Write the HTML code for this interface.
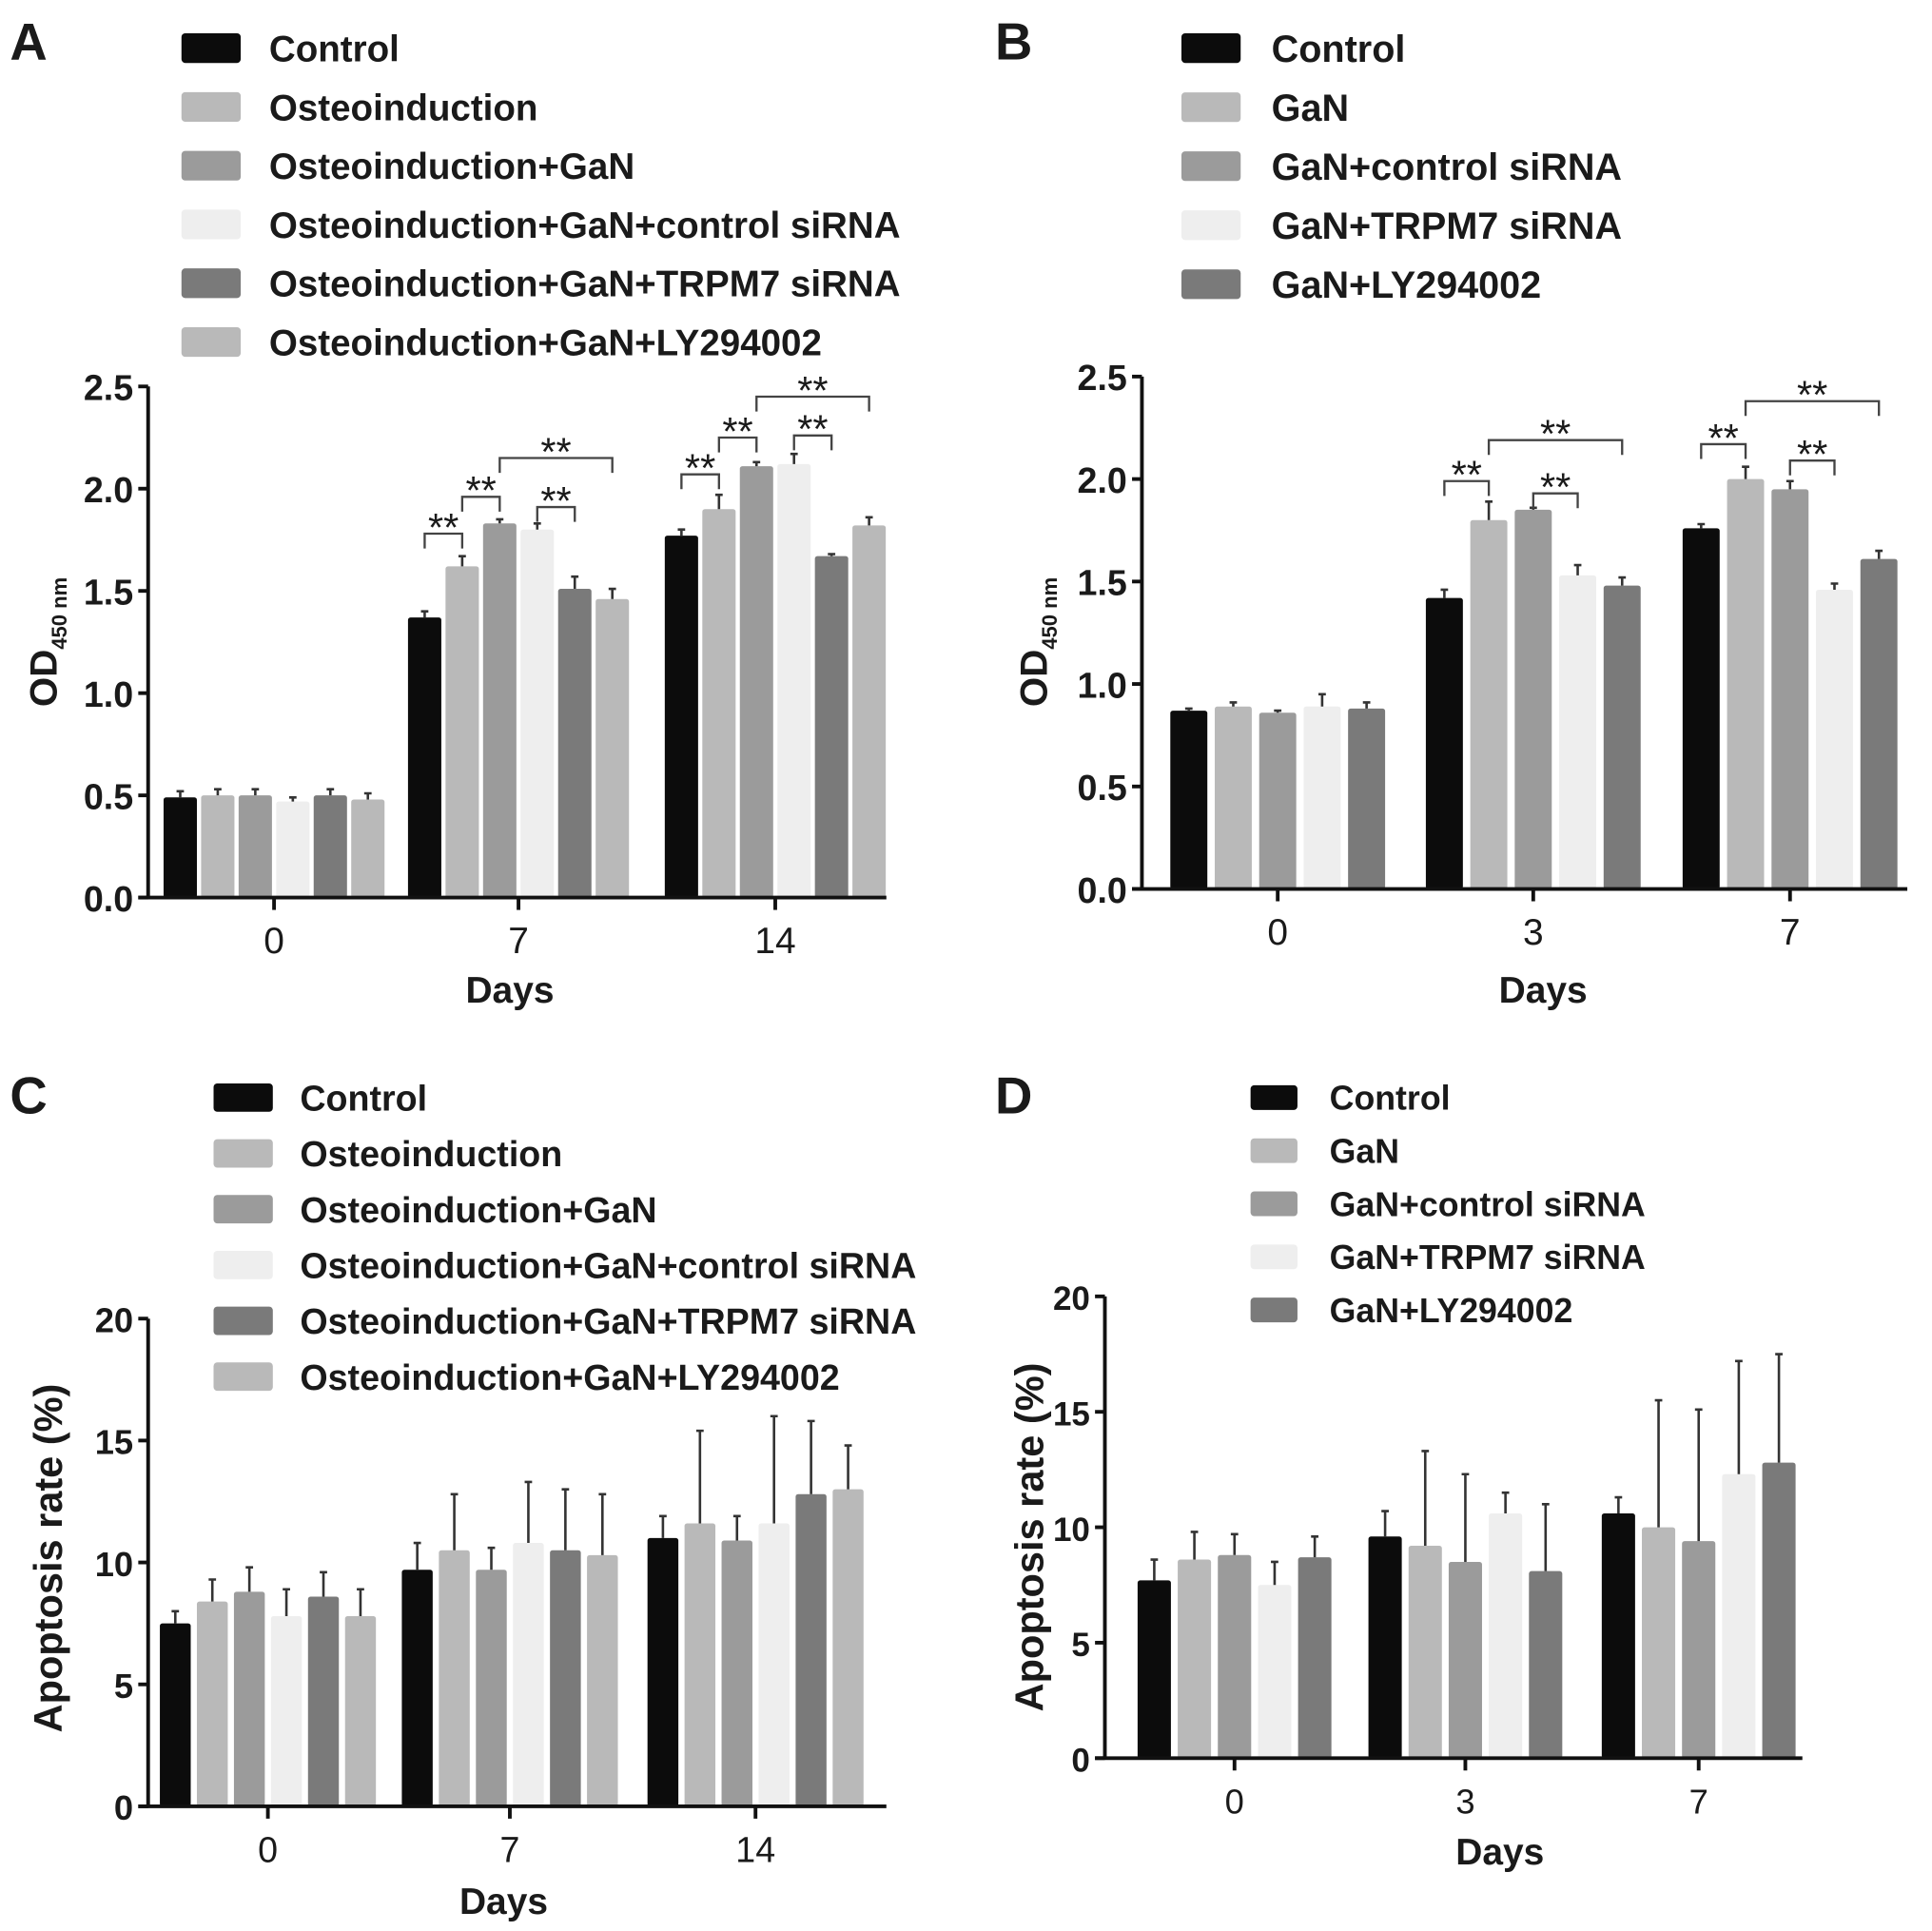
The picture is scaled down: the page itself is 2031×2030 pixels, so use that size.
<!DOCTYPE html>
<html><head><meta charset="utf-8">
<style>
html,body{margin:0;padding:0;background:#fff;}
svg{display:block;}
text{font-family:"Liberation Sans",Arial,sans-serif;fill:#1a1a1a;}
</style></head>
<body>
<svg id="fig" xmlns="http://www.w3.org/2000/svg" width="2031" height="2030" viewBox="0 0 1565 1564" preserveAspectRatio="none"></svg>
<script>
// ---- Panel A data ----
const catsA = ["0","7","14"];
const seriesA = ["Control","Osteoinduction","Osteoinduction+GaN","Osteoinduction+GaN+control siRNA","Osteoinduction+GaN+TRPM7 siRNA","Osteoinduction+GaN+LY294002"];
const valsA = [[0.49,0.50,0.50,0.47,0.50,0.48],[1.37,1.62,1.83,1.80,1.51,1.46],[1.77,1.90,2.11,2.12,1.67,1.82]];
const errA = [[0.03,0.03,0.03,0.02,0.03,0.03],[0.03,0.05,0.02,0.03,0.06,0.05],[0.03,0.07,0.02,0.05,0.01,0.04]];
const ticksA = [0,0.5,1.0,1.5,2.0,2.5];
const sigA = [[1,0,1,1.78],[1,1,2,1.96],[1,2,5,2.15],[1,3,4,1.91],[2,0,1,2.07],[2,1,2,2.25],[2,2,5,2.45],[2,3,4,2.26]];
// ---- Panel B data ----
const catsB = ["0","3","7"];
const seriesB = ["Control","GaN","GaN+control siRNA","GaN+TRPM7 siRNA","GaN+LY294002"];
const valsB = [[0.87,0.89,0.86,0.89,0.88],[1.42,1.80,1.85,1.53,1.48],[1.76,2.00,1.95,1.46,1.61]];
const errB = [[0.01,0.02,0.01,0.06,0.03],[0.04,0.09,0.01,0.05,0.04],[0.02,0.06,0.04,0.03,0.04]];
const ticksB = [0,0.5,1.0,1.5,2.0,2.5];
const sigB = [[1,0,1,1.99],[1,1,4,2.19],[1,2,3,1.93],[2,0,1,2.17],[2,1,4,2.38],[2,2,3,2.09]];
// ---- Panel C data ----
const catsC = ["0","7","14"];
const valsC = [[7.5,8.4,8.8,7.8,8.6,7.8],[9.7,10.5,9.7,10.8,10.5,10.3],[11.0,11.6,10.9,11.6,12.8,13.0]];
const errC = [[0.5,0.9,1.0,1.1,1.0,1.1],[1.1,2.3,0.9,2.5,2.5,2.5],[0.9,3.8,1.0,4.4,3.0,1.8]];
const ticksC = [0,5,10,15,20];
// ---- Panel D data ----
const catsD = ["0","3","7"];
const valsD = [[7.7,8.6,8.8,7.5,8.7],[9.6,9.2,8.5,10.6,8.1],[10.6,10.0,9.4,12.3,12.8]];
const errD = [[0.9,1.2,0.9,1.0,0.9],[1.1,4.1,3.8,0.9,2.9],[0.7,5.5,5.7,4.9,4.7]];
const ticksD = [0,5,10,15,20];

const colors6 = ["#0c0c0c","#b9b9b9","#9b9b9b","#eeeeee","#7a7a7a","#b9b9b9"];
const colors5 = ["#0c0c0c","#b9b9b9","#9b9b9b","#eeeeee","#7a7a7a"];
const svg = document.getElementById('fig');
const NS = "http://www.w3.org/2000/svg";
function mk(tag, attrs, parent){const e=document.createElementNS(NS,tag);for(const k in attrs)e.setAttribute(k,attrs[k]);(parent||svg).appendChild(e);return e;}

function panel(cfg){
  const g = mk('g',{});
  
  
  const y = v => cfg.y0 - (v - 0)/cfg.max*(cfg.y0-cfg.yTop);
  const bx = (gi,i) => cfg.gx[gi] + (i-(cfg.n-1)/2)*cfg.pitch;
  const L = mk('text',{x:cfg.letter[0],y:cfg.letter[1],'font-size':42,'font-weight':'bold'},g); L.textContent=cfg.id;
  
  
  cfg.series.forEach((s,i)=>{
    const cy = cfg.leg.y0 + i*cfg.leg.dy;
    const r = mk('rect',{x:cfg.leg.x,y:cy-cfg.leg.h/2,width:cfg.leg.w,height:cfg.leg.h,rx:3,fill:cfg.colors[i]},g);
    
    
    const t = mk('text',{x:cfg.leg.tx,y:cy+cfg.leg.fs*0.36,'font-size':cfg.leg.fs,'font-weight':'bold',fill:'#2a2a2a'},g); t.textContent=s;
    
    
  });
  cfg.vals.forEach((grp,gi)=>grp.forEach((v,i)=>{
    const cx = bx(gi,i);
    const r = mk('rect',{x:cx-cfg.bw/2,y:y(v),width:cfg.bw,height:cfg.y0-y(v),fill:cfg.colors[i],rx:2},g);
    
    
    const et = y(v+cfg.err[gi][i]);
    const e = mk('path',{d:`M${cx},${y(v)} V${et} M${cx-3},${et} H${cx+3}`,stroke:'#333','stroke-width':2,fill:'none'},g);
    
    
  }));
  (cfg.sig||[]).forEach(s=>{
    const x1=bx(s[0],s[1]), x2=bx(s[0],s[2]), yy=y(s[3]);
    const p = mk('path',{d:`M${x1},${yy+12} V${yy} H${x2} V${yy+12}`,stroke:'#444','stroke-width':1.8,fill:'none'},g);
    
    
    const t = mk('text',{x:(x1+x2)/2,y:yy+6,'font-size':32,'text-anchor':'middle',fill:'#333'},g); t.textContent='**';
    
    
  });
  const ax = mk('path',{d:`M${cfg.ax},${cfg.yTop} V${cfg.y0} M${cfg.ax-8},${cfg.y0} H${cfg.xEnd}`,stroke:'#111','stroke-width':3,fill:'none'},g);
  
  
  cfg.ticks.forEach(tv=>{
    mk('line',{x1:cfg.ax-8,x2:cfg.ax,y1:y(tv),y2:y(tv),stroke:'#111','stroke-width':3},g);
    const t = mk('text',{x:cfg.ax-12,y:y(tv)+11,'font-size':cfg.tfs,'text-anchor':'end','font-weight':'bold',fill:'#222'},g);
    t.textContent = cfg.fmt(tv);
    
    
  });
  cfg.cats.forEach((c,gi)=>{
    mk('line',{x1:cfg.gx[gi],x2:cfg.gx[gi],y1:cfg.y0,y2:cfg.y0+10,stroke:'#111','stroke-width':3},g);
    const t = mk('text',{x:cfg.gx[gi],y:cfg.y0+45,'font-size':cfg.tfs+1,'text-anchor':'middle',fill:'#222'},g);
    t.textContent=c;
    
    
  });
  const xt = mk('text',{x:cfg.xl[0],y:cfg.xl[1],'font-size':30,'text-anchor':'middle','font-weight':'bold',fill:'#222'},g);
  xt.textContent='Days';
  
  
  const yt = mk('text',{x:0,y:0,'font-size':cfg.od?31:32,'text-anchor':'middle','font-weight':'bold',fill:'#222',transform:`translate(${cfg.yl[0]},${cfg.yl[1]}) rotate(-90)`},g);
  if(cfg.od){ yt.innerHTML='OD<tspan font-size="17" dy="8">450 nm</tspan>'; } else { yt.textContent='Apoptosis rate (%)'; }
  
  
}
const f1 = v=>v.toFixed(1), f0 = v=>String(v);
panel({id:'A',n:6,series:seriesA,colors:colors6,vals:valsA,err:errA,sig:sigA,cats:catsA,ticks:ticksA,fmt:f1,max:2.5,
  y0:727,yTop:313,ax:120,xEnd:718,gx:[222,420,628],pitch:30.4,bw:27,letter:[8,48],
  leg:{x:147,y0:39,dy:47.6,w:48,h:24,tx:218,fs:29.7},tfs:29,xl:[413,812],yl:[46,520],od:true});
panel({id:'B',n:5,series:seriesB,colors:colors5,vals:valsB,err:errB,sig:sigB,cats:catsB,ticks:ticksB,fmt:f1,max:2.5,
  y0:720,yTop:305,ax:925,xEnd:1545,gx:[1035,1242,1450],pitch:36,bw:30,letter:[806,48],
  leg:{x:957,y0:39,dy:47.8,w:48,h:24,tx:1030,fs:30.5},tfs:29,xl:[1250,812],yl:[848,520],od:true});
panel({id:'C',n:6,series:seriesA,colors:colors6,vals:valsC,err:errC,cats:catsC,ticks:ticksC,fmt:f0,max:20,
  y0:1463,yTop:1068,ax:120,xEnd:718,gx:[217,413,612],pitch:30,bw:25,letter:[8,902],
  leg:{x:173,y0:889,dy:45.2,w:48,h:23,tx:243,fs:29},tfs:28,xl:[408,1550],yl:[50,1262]});
panel({id:'D',n:5,series:seriesB,colors:colors5,vals:valsD,err:errD,cats:catsD,ticks:ticksD,fmt:f0,max:20,
  y0:1424,yTop:1050,ax:895,xEnd:1460,gx:[1000,1187,1376],pitch:32.5,bw:27,letter:[806,902],
  leg:{x:1013,y0:889,dy:43,w:38,h:20,tx:1077,fs:27.5},tfs:27,xl:[1215,1510],yl:[845,1245]});
</script>
</body></html>
